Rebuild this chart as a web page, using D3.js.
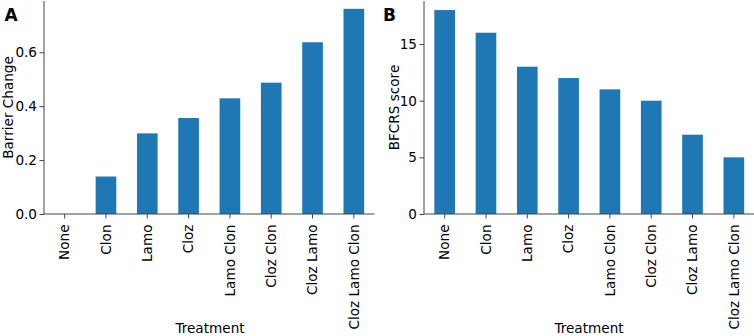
<!DOCTYPE html>
<html>
<head>
<meta charset="utf-8">
<script src="https://cdn.jsdelivr.net/npm/d3@7"></script>
<style>
  html, body { margin: 0; padding: 0; background: #fff; }
  svg { display: block; }
  text { font-family: "DejaVu Sans", sans-serif; fill: #000; }
</style>
</head>
<body>
<svg id="chart" width="754" height="336"></svg>
<script>
const categories = ["None", "Clon", "Lamo", "Cloz", "Lamo Clon", "Cloz Clon", "Cloz Lamo", "Cloz Lamo Clon"];
const barrierChange = [0.0, 0.139, 0.299, 0.356, 0.429, 0.487, 0.637, 0.761];
const bfcrsScore = [18, 16, 13, 12, 11, 10, 7, 5];
const ticksA = [0.0, 0.2, 0.4, 0.6];
const ticksB = [0, 5, 10, 15];

const svg = d3.select("#chart");
const color = "#1f77b4";
const axisColor = "#444";
const fs = 13.6;

function panel(opts) {
  const { x0, x1, yTop, yBottom, values, yMax, ticks, fmt, ylabel, ylabelX, letter, letterX, xlabelX } = opts;
  const g = svg.append("g");
  const x = d3.scaleBand().domain(categories).range([x0, x1]).paddingInner(0.5).paddingOuter(0.25);
  const y = d3.scaleLinear().domain([0, yMax]).range([yBottom, yTop]);

  g.selectAll("rect.bar").data(values).join("rect")
    .attr("class", "bar")
    .attr("x", (d, i) => x(categories[i]))
    .attr("width", x.bandwidth())
    .attr("y", d => y(d))
    .attr("height", d => y(0) - y(d))
    .attr("fill", color);

  const yAxis = d3.axisLeft(y).tickValues(ticks).tickFormat(fmt).tickSize(4.5).tickPadding(2.5);
  const ya = g.append("g").attr("transform", `translate(${x0},0)`).call(yAxis);
  ya.select(".domain").attr("stroke", axisColor).attr("d", `M0,${yBottom}V${yTop}`);
  ya.selectAll(".tick line").attr("stroke", axisColor);
  ya.selectAll(".tick text").attr("font-size", fs).attr("font-family", "DejaVu Sans").attr("fill", "#000");

  const xAxis = d3.axisBottom(x).tickSize(4.5).tickPadding(3.5);
  const xa = g.append("g").attr("transform", `translate(0,${yBottom})`).call(xAxis);
  xa.select(".domain").attr("stroke", axisColor).attr("d", `M${x0},0H${x1}`);
  xa.selectAll(".tick line").attr("stroke", axisColor);
  xa.selectAll(".tick text")
    .attr("font-size", fs).attr("font-family", "DejaVu Sans").attr("fill", "#000")
    .attr("transform", "rotate(-90)")
    .attr("text-anchor", "end")
    .attr("x", -10.5).attr("y", 0).attr("dy", "0.35em");

  g.append("text")
    .attr("transform", `translate(${ylabelX},${(yTop + yBottom) / 2}) rotate(-90)`)
    .attr("text-anchor", "middle").attr("dy", "0.35em")
    .attr("font-size", fs).text(ylabel);

  g.append("text")
    .attr("x", xlabelX).attr("y", 333)
    .attr("text-anchor", "middle")
    .attr("font-size", fs).text("Treatment");

  g.append("text")
    .attr("x", letterX).attr("y", 20.8)
    .attr("font-size", 17).attr("font-weight", "bold").text(letter);
}

panel({ x0: 44, x1: 374.5, yTop: 1, yBottom: 214, values: barrierChange, yMax: 0.79,
        ticks: ticksA, fmt: d3.format(".1f"), ylabel: "Barrier Change", ylabelX: 8.5,
        letter: "A", letterX: 4.5, xlabelX: 210 });
panel({ x0: 424, x1: 754.5, yTop: 1, yBottom: 214, values: bfcrsScore, yMax: 18.8,
        ticks: ticksB, fmt: d3.format("d"), ylabel: "BFCRS score", ylabelX: 394,
        letter: "B", letterX: 383, xlabelX: 589 });
</script>
</body>
</html>
